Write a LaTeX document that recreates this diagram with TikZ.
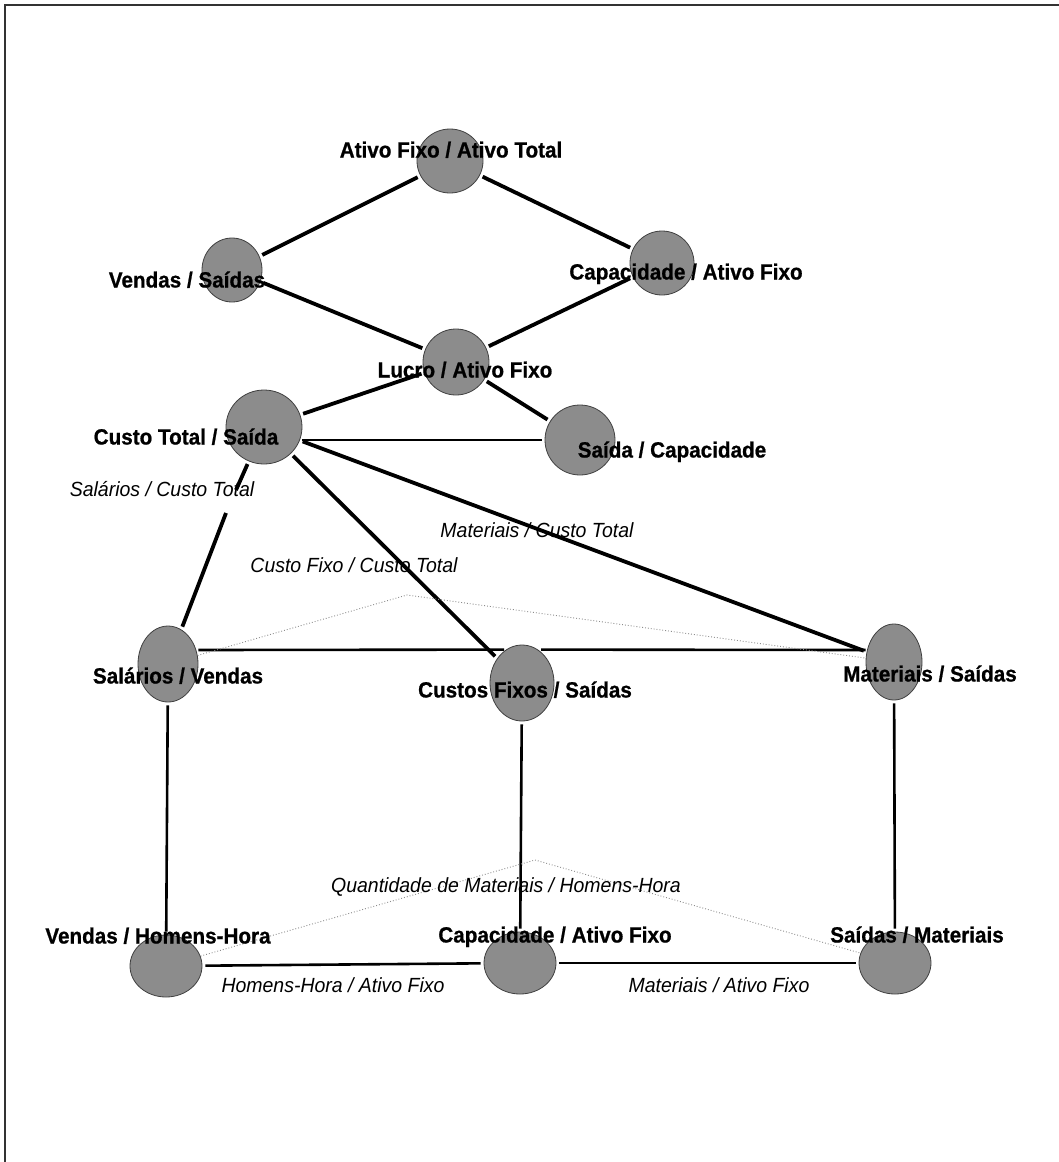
\documentclass[tikz,border=0pt]{standalone}
\usepackage{fontspec}
\setmainfont{Liberation Sans}
\newfontfamily\tagfont{Liberation Sans Bold}[FakeStretch=0.94, FakeBold=0.8]
\newfontfamily\relfont{Liberation Sans Italic}[FakeStretch=0.95]
\usetikzlibrary{shapes.geometric,backgrounds}
\begin{document}
\begin{tikzpicture}[x=1pt,y=-1pt,
  ratio/.style={ellipse, draw=black!75, line width=0.8pt, fill=black!45, inner sep=0pt},
  tag/.style={font=\tagfont\fontsize{22}{24}\selectfont, inner sep=0pt, anchor=base},
  rel/.style={font=\relfont\fontsize{20.5}{22}\selectfont, inner sep=0pt, anchor=base},
  link/.style={line width=3.8pt, shorten >=3pt, shorten <=3pt},
  flat/.style={line width=2.6pt, shorten >=3pt, shorten <=3pt},
  hint/.style={black!45, dotted, line width=0.9pt}]
\useasboundingbox (0,0) rectangle (1059,1162);
% page frame (top and left edges only)
\draw[line width=1.4pt, black!80] (1059,5) -- (5,5) -- (5,1162);

% ratio ellipses
\node[ratio, minimum width=66pt, minimum height=64pt] (A)   at (450,161) {};
\node[ratio, minimum width=60pt, minimum height=64pt] (VS)  at (232,270) {};
\node[ratio, minimum width=64pt, minimum height=64pt] (CAF) at (662,263) {};
\node[ratio, minimum width=66pt, minimum height=66pt] (LAF) at (456,362) {};
\node[ratio, minimum width=76pt, minimum height=74pt] (CTS) at (264,427) {};
\node[ratio, minimum width=70pt, minimum height=70pt] (SC)  at (580,440) {};
\node[ratio, minimum width=60pt, minimum height=76pt] (SV)  at (168,664) {};
\node[ratio, minimum width=64pt, minimum height=76pt] (CFS) at (522,683) {};
\node[ratio, minimum width=56pt, minimum height=76pt] (MS)  at (894,662) {};
\node[ratio, minimum width=72pt, minimum height=62pt] (VHH) at (166,966) {};
\node[ratio, minimum width=72pt, minimum height=62pt] (CA2) at (520,963) {};
\node[ratio, minimum width=72pt, minimum height=62pt] (SM)  at (895,963) {};

% bold ratio names
\node[tag] (tA)   at (451,157.5) {Ativo Fixo / Ativo Total};
\node[tag] (tVS)  at (187,287.5) {Vendas / Saídas};
\node[tag] (tCAF) at (686,279.5) {Capacidade / Ativo Fixo};
\node[tag] (tLAF) at (465,377.5) {Lucro / Ativo Fixo};
\node[tag] (tCTS) at (186,444.5) {Custo Total / Saída};
\node[tag] (tSC)  at (672,457.5) {Saída / Capacidade};
\node[tag] (tSV)  at (178,683.5) {Salários / Vendas};
\node[tag] (tCFS) at (525,697.5) {Custos Fixos / Saídas};
\node[tag] (tMS)  at (930,681.5) {Materiais / Saídas};
\node[tag] (tVHH) at (158,943.5) {Vendas / Homens-Hora};
\node[tag] (tCA2) at (555,942.5) {Capacidade / Ativo Fixo};
\node[tag] (tSM)  at (917,942.5) {Saídas / Materiais};

% italic connector labels
\node[rel] (rSal) at (162,496) {Salários / Custo Total};
\node[rel] (rMat) at (537,537) {Materiais / Custo Total};
\node[rel] (rFix) at (354,572) {Custo Fixo / Custo Total};
\node[rel] (rQtd) at (506,892) {Quantidade de Materiais / Homens-Hora};
\node[rel] (rHH)  at (333,992) {Homens-Hora / Ativo Fixo};
\node[rel] (rMAF) at (719,992) {Materiais / Ativo Fixo};

% free ends of split and dotted connectors
\coordinate (salTop) at (236,490);
\coordinate (salBot) at (226,513);
\coordinate (roofA) at (407,595);
\coordinate (roofB) at (535,860);

\begin{pgfonlayer}{background}
  \draw[link] (A) -- (VS);
  \draw[link] (A) -- (CAF);
  \draw[link] (VS) -- (LAF);
  \draw[link] (CAF) -- (LAF);
  \draw[link] (LAF) -- (CTS);
  \draw[link] (LAF) -- (SC);
  \draw[flat, shorten <=0pt] (CTS.east |- SC) -- (SC);
  \draw[link, shorten >=0pt] (CTS) -- (salTop);
  \draw[link, shorten <=0pt] (salBot) -- (SV);
  \draw[link] (CTS) -- (CFS);
  \draw[link] (CTS) -- (MS);
  \draw[flat, shorten <=0pt] ([yshift=14pt]SV.east) -- ([xshift=-15pt,yshift=-5pt]CFS.north);
  \draw[flat, shorten >=0pt] ([xshift=16pt,yshift=-5pt]CFS.north) -- ([yshift=12pt]MS.west);
  \draw[flat] (SV) -- (VHH);
  \draw[flat] (CFS) -- (CA2);
  \draw[flat] (MS) -- (SM);
  \draw[flat] (VHH) -- (CA2);
  \draw[flat] (CA2) -- (SM);
  \draw[hint] (SV) -- (roofA) -- (MS);
  \draw[hint] (VHH) -- (roofB) -- (SM);
\end{pgfonlayer}
\end{tikzpicture}
\end{document}
